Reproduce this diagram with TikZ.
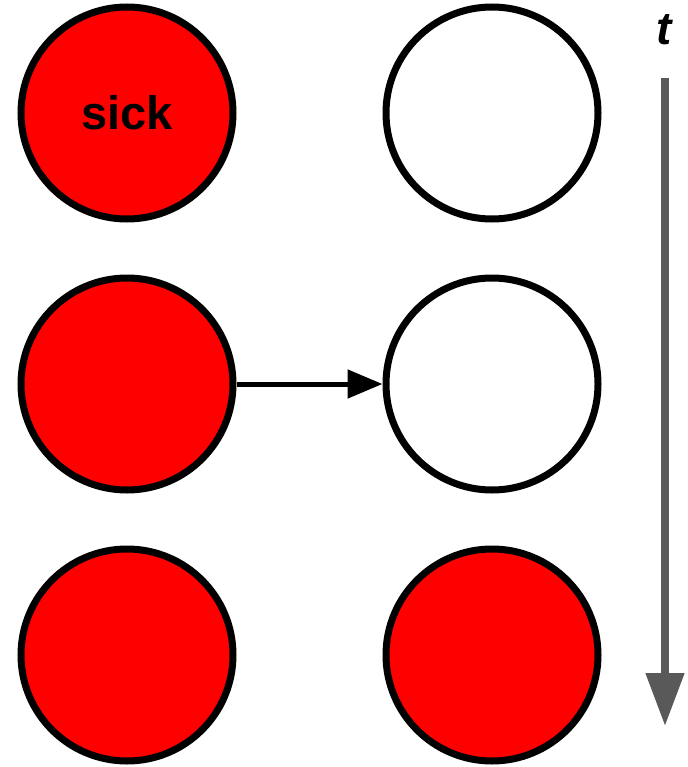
\documentclass[tikz,border=0pt]{standalone}
\usepackage{fontspec}
\setmainfont{Liberation Sans}
\usetikzlibrary{arrows.meta}
\definecolor{sickred}{HTML}{FF0000}
\definecolor{timegray}{HTML}{595959}
\begin{document}
\begin{tikzpicture}[x=1pt,y=-1pt,
  person/.style={circle,draw=black,line width=7pt,minimum size=212pt,inner sep=0pt},
  sickp/.style={person,fill=sickred},
  healthy/.style={person,fill=white},
  lbl/.style={font=\fontsize{47}{50}\selectfont\bfseries}]
\useasboundingbox (0,0) rectangle (687,767);
\node[sickp,lbl] (a1) at (127,113) {sick};
\node[healthy] (b1) at (492,113) {};
\node[sickp] (a2) at (127,384) {};
\node[healthy] (b2) at (492,384) {};
\node[sickp] (a3) at (127,655) {};
\node[sickp] (b3) at (492,655) {};
\draw[line width=5pt,-{Triangle[length=35pt,width=28pt]}] (a2) -- (b2);
\node[font=\fontsize{46}{48}\selectfont\bfseries\itshape,inner sep=0pt] (t) at (664,30) {t};
\coordinate (ttop) at (665,78);
\coordinate (tbot) at (665,726);
\draw[timegray,line width=8pt,-{Triangle[length=53pt,width=37pt]}] (ttop) -- (tbot);
\end{tikzpicture}
\end{document}
